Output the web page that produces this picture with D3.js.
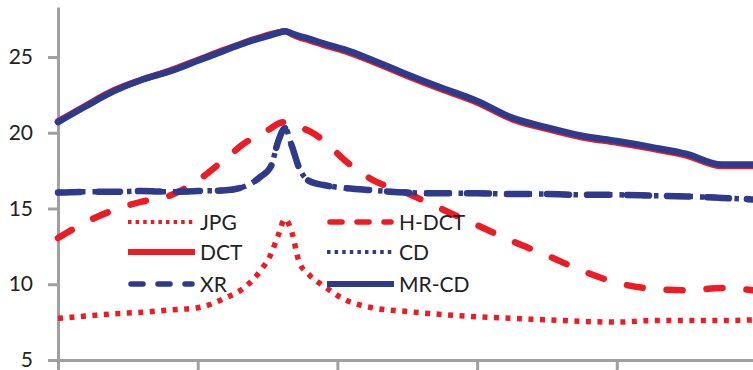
<!DOCTYPE html>
<html><head><meta charset="utf-8">
<script src="https://cdn.jsdelivr.net/npm/d3@7"></script>
<style>
html,body{margin:0;padding:0;background:#fff;}
svg{display:block;}
text{font-family:Lato,"Open Sans",sans-serif;fill:#222;}
</style></head>
<body><svg id="c" width="753" height="370"></svg>
<script>
const xs    = [0,4,8,12,16,20,24,27,29,30.5,31.5,32.5,33.5,34.5,36,38,41,45,50,55,60,65,70,75,80,85,90,95,99.5];
const jpg   = [7.75,7.9,8.05,8.15,8.3,8.45,9.1,9.9,10.9,12.0,13.2,14.3,13.4,11.5,10.6,9.9,9.0,8.45,8.2,8.0,7.85,7.75,7.65,7.55,7.5,7.6,7.6,7.6,7.65];
const hdct  = [13.05,14.1,14.9,15.45,15.85,16.85,18.3,19.4,19.9,20.3,20.6,20.7,20.65,20.4,20.1,19.5,18.2,16.9,16.0,14.95,13.9,12.85,11.9,10.9,10.1,9.7,9.6,9.75,9.6];
const dct   = [20.75,21.8,22.8,23.5,24.1,24.8,25.5,26.0,26.3,26.5,26.6,26.7,26.5,26.3,26.1,25.8,25.4,24.7,23.75,22.85,22.0,20.9,20.25,19.7,19.35,18.95,18.5,17.8,17.8];
const cd    = [16.05,16.1,16.1,16.15,16.1,16.15,16.2,16.5,17.1,17.8,19.4,20.3,19.1,17.7,16.8,16.55,16.35,16.2,16.05,16.0,16.0,15.95,15.95,15.9,15.9,15.85,15.8,15.7,15.6];
const xr    = [16.05,16.1,16.1,16.15,16.1,16.15,16.2,16.5,17.1,17.8,19.4,20.3,19.1,17.7,16.8,16.55,16.35,16.2,16.05,16.0,16.0,15.95,15.95,15.9,15.9,15.85,15.8,15.7,15.6];
const mrcd  = [20.7,21.75,22.75,23.5,24.05,24.75,25.45,25.97,26.25,26.45,26.6,26.7,26.55,26.4,26.2,25.9,25.5,24.8,23.85,22.95,22.1,21.0,20.35,19.8,19.45,19.05,18.6,17.9,17.9];
const yTicks = [5,10,15,20,25];
const xTicks = [0,20,40,60,80,100];
const seriesNames = ["JPG","H-DCT","DCT","CD","XR","MR-CD"];

const RED="#ED1C24", BLUE="#2E3A8C";
const svg = d3.select("#c");
const x = d3.scaleLinear().domain([0,100]).range([58,756.5]);
const y = d3.scaleLinear().domain([5,28.3]).range([360,7]);

const ya = svg.append("g").attr("transform","translate(58,0)")
  .call(d3.axisLeft(y).tickValues(yTicks).tickSize(10).tickSizeOuter(0).tickPadding(15));
const xa = svg.append("g").attr("transform","translate(0,360)")
  .call(d3.axisBottom(x).tickValues(xTicks).tickSize(10).tickSizeOuter(0).tickFormat(""));
[ya,xa].forEach(g=>{
  g.select(".domain").attr("stroke","#A0A0A0").attr("stroke-width",3);
  g.selectAll(".tick line").attr("stroke","#A0A0A0").attr("stroke-width",3);
});
ya.selectAll(".tick text").attr("font-size",21).attr("fill","#222").style("font-family","Lato,'Open Sans',sans-serif");

const line = d3.line().x((d,i)=>x(xs[i])).y(d=>y(d)).curve(d3.curveMonotoneX);

const styles = {
  "JPG":  {data:jpg,  color:RED,  w:5.5, dash:"5,6.5",  cap:"butt",  lw:4,   ldash:"3.5,4.1", lcap:"butt"},
  "H-DCT":{data:hdct, color:RED,  w:6.5, dash:"16,24",  cap:"round", lw:5.5, ldash:"12,15",   lcap:"round"},
  "DCT":  {data:dct,  color:RED,  w:6.5, dash:null,     cap:"round", lw:6,   ldash:null,      lcap:"butt"},
  "CD":   {data:cd,   color:BLUE, w:5.5, dash:"4.5,7",  cap:"butt",  lw:4,   ldash:"3.5,4.1", lcap:"butt"},
  "XR":   {data:xr,   color:BLUE, w:6.5, dash:"22,18",  cap:"round", lw:5.5, ldash:"12,15",   lcap:"round"},
  "MR-CD":{data:mrcd, color:BLUE, w:6.5, dash:null,     cap:"round", lw:6,   ldash:null,      lcap:"butt"}
};

const plot = svg.append("g");
seriesNames.forEach(n=>{
  const s = styles[n];
  plot.append("path").datum(s.data)
    .attr("d",line).attr("fill","none")
    .attr("stroke",s.color).attr("stroke-width",s.w)
    .attr("stroke-linecap",s.cap).attr("stroke-linejoin","round")
    .attr("stroke-dasharray",s.dash);
});

const legendPos = [[128,222],[327,222],[128,252],[327,252],[128,284],[327,284]];
const lg = svg.append("g");
seriesNames.forEach((n,i)=>{
  const s = styles[n];
  const [lx,ly] = legendPos[i];
  lg.append("line").attr("x1",lx+(s.lcap==="round"?3:0)).attr("x2",lx+(s.lcap==="round"?64:67)).attr("y1",ly).attr("y2",ly)
    .attr("stroke",s.color).attr("stroke-width",s.lw)
    .attr("stroke-linecap",s.lcap).attr("stroke-dasharray",s.ldash);
  lg.append("text").attr("x",lx+72).attr("y",ly+7.5).attr("font-size",21).text(n);
});
</script></body></html>
